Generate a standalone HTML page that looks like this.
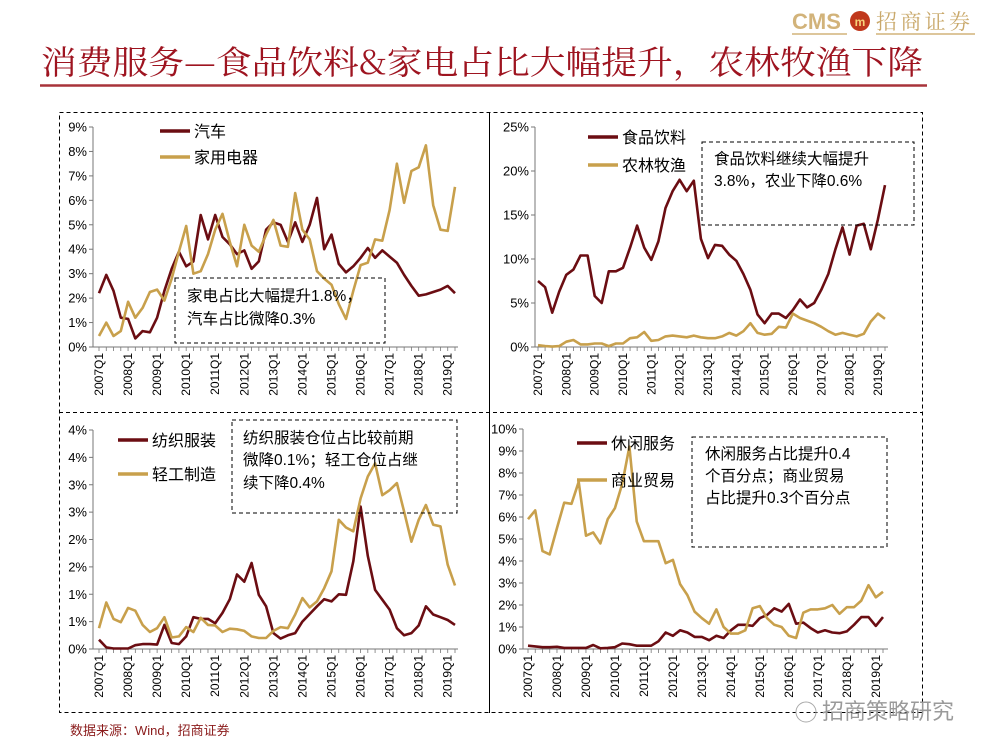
<!DOCTYPE html>
<html><head><meta charset="utf-8">
<style>
html,body{margin:0;padding:0;background:#fff;}
svg{display:block;font-family:"Liberation Sans","Noto Sans CJK SC",sans-serif;}
</style></head>
<body>
<svg id="root" width="991" height="754" viewBox="0 0 991 754" xmlns="http://www.w3.org/2000/svg">
  <g>
    <text x="792" y="29" font-size="22" fill="#d2b37a" font-weight="bold">CMS</text>
    <circle cx="860" cy="21" r="10" fill="#c0381c"/>
    <text x="860" y="26" font-size="12" fill="#f6d27a" text-anchor="middle" font-weight="bold">m</text>
    <text x="876" y="29" font-size="21" fill="#c9a86a" font-family="'Liberation Serif','Noto Serif CJK SC',serif" textLength="94">招商证券</text>
    <line x1="792" y1="34" x2="847" y2="34" stroke="#d2b37a" stroke-width="1.5"/>
    <line x1="876" y1="34" x2="975" y2="34" stroke="#d2b37a" stroke-width="1.5"/>
  </g>
  <text x="41" y="74" font-size="33" fill="#9e1420" font-family="'Noto Serif CJK SC',serif" textLength="882" lengthAdjust="spacingAndGlyphs">消费服务—食品饮料&amp;家电占比大幅提升，农林牧渔下降</text>
  <line x1="40" y1="85.5" x2="927" y2="85.5" stroke="#a8333a" stroke-width="2.5"/>

  <g fill="none" stroke="#000" stroke-width="1">
    <rect x="59.5" y="112.5" width="863" height="600" stroke-dasharray="4,3"/>
    <line x1="59" y1="412.5" x2="922" y2="412.5" stroke-dasharray="4,3"/>
    <line x1="489.5" y1="112" x2="489.5" y2="713"/>
  </g>

  <text x="70" y="735" font-size="13" fill="#8a1a1a">数据来源：Wind，招商证券</text>
  <text x="822" y="719" font-size="22" fill="#9a9a9a" font-family="'Noto Sans CJK SC',sans-serif">招商策略研究</text>
  <circle cx="806" cy="712" r="10" fill="none" stroke="#aaa"/>
</svg>
<script>
// Quarters 2007Q1 .. 2019Q2
const quarters = [];
for (let y = 2007; y <= 2019; y++) for (let q = 1; q <= 4; q++) quarters.push(y + 'Q' + q);
quarters.length = 50;

const autoSeries = [2.2,2.95,2.3,1.2,1.15,0.35,0.65,0.6,1.2,2.3,3.2,3.9,3.3,3.5,5.4,4.4,5.4,4.5,4.2,3.8,3.95,3.2,3.5,4.8,5.1,5.0,4.3,5.1,4.3,5.0,6.1,4.0,4.6,3.4,3.05,3.3,3.65,4.05,3.65,3.95,3.7,3.45,2.95,2.5,2.1,2.15,2.25,2.35,2.5,2.2];
const applianceSeries = [0.45,1.0,0.45,0.65,1.85,1.2,1.6,2.25,2.35,1.9,2.8,3.9,4.95,3.0,3.1,3.8,4.8,5.45,4.3,3.3,5.0,4.15,3.9,4.6,5.2,4.15,4.1,6.3,4.8,4.4,3.1,2.8,2.55,1.75,1.15,2.3,3.35,3.45,4.4,4.35,5.6,7.5,5.9,7.2,7.35,8.25,5.8,4.8,4.75,6.55];
const foodSeries = [7.5,6.8,3.9,6.3,8.2,8.8,10.4,10.4,5.8,5.0,8.6,8.6,9.0,11.3,13.8,11.3,9.9,12.0,15.8,17.7,19.0,17.7,18.9,12.3,10.1,11.6,11.5,10.5,9.8,8.3,6.5,3.7,2.7,3.8,3.8,3.3,4.2,5.4,4.5,5.0,6.5,8.3,11.1,13.6,10.5,13.8,14.0,11.1,14.5,18.4];
const agriSeries = [0.2,0.1,0.05,0.1,0.6,0.8,0.3,0.3,0.4,0.4,0.1,0.4,0.4,1.0,1.1,1.7,0.7,0.8,1.2,1.3,1.2,1.1,1.3,1.1,1.0,1.0,1.2,1.6,1.3,1.8,2.7,1.6,1.4,1.5,2.3,2.2,3.8,3.3,3.0,2.7,2.3,1.8,1.4,1.6,1.4,1.2,1.5,2.9,3.8,3.2];
const textileSeries = [0.17,0.03,0.01,0.01,0.01,0.07,0.09,0.09,0.08,0.44,0.11,0.09,0.23,0.58,0.55,0.55,0.47,0.66,0.91,1.36,1.23,1.57,0.99,0.78,0.29,0.19,0.25,0.29,0.5,0.64,0.78,0.91,0.87,1.0,0.99,1.6,2.6,1.7,1.08,0.9,0.72,0.38,0.25,0.29,0.43,0.78,0.63,0.58,0.53,0.44];
const lightIndSeries = [0.38,0.85,0.55,0.49,0.75,0.7,0.44,0.31,0.38,0.58,0.21,0.23,0.4,0.31,0.57,0.44,0.43,0.31,0.37,0.36,0.33,0.23,0.2,0.2,0.33,0.4,0.38,0.63,0.93,0.76,0.87,1.11,1.42,2.36,2.22,2.15,2.75,3.15,3.39,2.81,2.9,3.03,2.51,1.96,2.36,2.63,2.27,2.24,1.54,1.16];
const leisureSeries = [0.15,0.12,0.08,0.08,0.1,0.05,0.05,0.05,0.05,0.18,0.03,0.05,0.08,0.25,0.22,0.15,0.15,0.15,0.35,0.75,0.6,0.85,0.75,0.55,0.55,0.4,0.6,0.5,0.85,1.1,1.1,1.05,1.4,1.55,1.85,1.7,2.05,1.15,1.2,0.95,0.75,0.85,0.75,0.72,0.8,1.1,1.45,1.45,1.05,1.45];
const tradeSeries = [5.9,6.3,4.45,4.3,5.5,6.65,6.6,7.6,5.15,5.3,4.8,5.9,6.4,7.5,9.2,5.8,4.9,4.9,4.9,3.9,4.05,2.95,2.45,1.7,1.4,1.15,1.8,1.0,0.7,0.7,0.85,1.85,1.95,1.4,1.1,1.0,0.6,0.5,1.65,1.8,1.8,1.85,2.0,1.6,1.9,1.9,2.2,2.9,2.35,2.6];

const ticks1 = ['0%','1%','2%','3%','4%','5%','6%','7%','8%','9%'];
const ticks2 = ['0%','5%','10%','15%','20%','25%'];
const ticks3 = ['0%','1%','1%','2%','2%','3%','3%','4%','4%'];
const ticks4 = ['0%','1%','2%','3%','4%','5%','6%','7%','8%','9%','10%'];

const DARK = '#6b0d12', GOLD = '#c8a04c';
const NS = 'http://www.w3.org/2000/svg';
const root = document.getElementById('root');
function mk(tag, attrs, parent) {
  const e = document.createElementNS(NS, tag);
  for (const k in attrs) e.setAttribute(k, attrs[k]);
  (parent || root).appendChild(e);
  return e;
}

function panel(cfg) {
  const g = mk('g', {});
  
  
  const step = (cfg.xLast - cfg.xFirst) / (quarters.length - 1);
  const xs = i => cfg.xFirst + i * step;
  const ys = v => cfg.yBot - v / cfg.max * (cfg.yBot - cfg.yTop);
  const ya = mk('line', {x1: cfg.x0, y1: cfg.yTop, x2: cfg.x0, y2: cfg.yBot, stroke: '#777', 'stroke-width': 1}, g);
  
  
  const n = cfg.ticks.length - 1;
  cfg.ticks.forEach((t, i) => {
    const y = ys(i * cfg.max / n);
    mk('line', {x1: cfg.x0 - 4, y1: y, x2: cfg.x0, y2: y, stroke: '#777'}, g);
    const tx = mk('text', {x: cfg.x0 - 6, y: y + 4.5, 'font-size': 13, 'text-anchor': 'end', fill: '#000'}, g);
    tx.textContent = t;
    
    
  });
  const xa = mk('line', {x1: cfg.x0, y1: cfg.yBot, x2: cfg.x1, y2: cfg.yBot, stroke: '#777'}, g);
  
  
  quarters.forEach((q, i) => {
    const x = xs(i);
    mk('line', {x1: x, y1: cfg.yBot, x2: x, y2: cfg.yBot + 4, stroke: '#777', 'stroke-width': 0.8}, g);
    if (i % 4 === 0) {
      const tx = mk('text', {x: 0, y: 0, 'font-size': 12, 'text-anchor': 'end', fill: '#000',
        transform: `translate(${x + 4},${cfg.yBot + 6}) rotate(-90)`}, g);
      tx.textContent = q;
      
      
    }
  });
  cfg.series.forEach(s => {
    const d = s.data.map((v, i) => (i ? 'L' : 'M') + xs(i).toFixed(1) + ',' + ys(v).toFixed(1)).join('');
    const p = mk('path', {d: d, fill: 'none', stroke: s.color, 'stroke-width': 2.6, 'stroke-linejoin': 'round'}, g);
    
    
  });
  cfg.series.forEach((s, k) => {
    const y = cfg.legY[k];
    const l = mk('line', {x1: cfg.legX, y1: y, x2: cfg.legX + 30, y2: y, stroke: s.color, 'stroke-width': 3.5}, g);
    
    
    const t = mk('text', {x: cfg.legX + 34, y: y + 6, 'font-size': 16, fill: '#000'}, g);
    t.textContent = s.label;
    
    
  });
  const b = cfg.box;
  const r = mk('rect', {x: b[0], y: b[1], width: b[2] - b[0], height: b[3] - b[1], fill: 'none', stroke: '#000', 'stroke-dasharray': '4,3'}, g);
  
  
  cfg.note.forEach((line, k) => {
    const t = mk('text', {x: b[0] + cfg.noteDx, y: cfg.noteY[k], 'font-size': 15.5, fill: '#000'}, g);
    t.textContent = line;
    
    
  });
}

panel({name: 'chart-auto-appliance', x0: 93, x1: 458, xFirst: 99, xLast: 455, yTop: 127, yBot: 347, max: 9, ticks: ticks1,
  series: [{id: 'auto', label: '汽车', data: autoSeries, color: DARK}, {id: 'appliance', label: '家用电器', data: applianceSeries, color: GOLD}],
  legX: 160, legY: [131, 157], box: [175, 278, 385, 343], noteDx: 12, noteY: [301, 324],
  note: ['家电占比大幅提升1.8%，', '汽车占比微降0.3%']});
panel({name: 'chart-food-agri', x0: 535, x1: 888, xFirst: 538, xLast: 885, yTop: 127, yBot: 347, max: 25, ticks: ticks2,
  series: [{id: 'food', label: '食品饮料', data: foodSeries, color: DARK}, {id: 'agri', label: '农林牧渔', data: agriSeries, color: GOLD}],
  legX: 588, legY: [137, 165], box: [702, 142, 914, 225], noteDx: 12, noteY: [164, 186],
  note: ['食品饮料继续大幅提升', '3.8%，农业下降0.6%']});
panel({name: 'chart-textile-light', x0: 93, x1: 458, xFirst: 99, xLast: 455, yTop: 430, yBot: 649, max: 4, ticks: ticks3,
  series: [{id: 'textile', label: '纺织服装', data: textileSeries, color: DARK}, {id: 'light-industry', label: '轻工制造', data: lightIndSeries, color: GOLD}],
  legX: 118, legY: [440, 474], box: [232, 420, 457, 513], noteDx: 11, noteY: [443, 465, 488],
  note: ['纺织服装仓位占比较前期', '微降0.1%；轻工仓位占继', '续下降0.4%']});
panel({name: 'chart-leisure-trade', x0: 523, x1: 888, xFirst: 528, xLast: 883, yTop: 429, yBot: 649, max: 10, ticks: ticks4,
  series: [{id: 'leisure', label: '休闲服务', data: leisureSeries, color: DARK}, {id: 'trade', label: '商业贸易', data: tradeSeries, color: GOLD}],
  legX: 577, legY: [443, 480], box: [692, 437, 887, 547], noteDx: 13, noteY: [459, 481, 503],
  note: ['休闲服务占比提升0.4', '个百分点；商业贸易', '占比提升0.3个百分点']});
</script>
</body></html>
